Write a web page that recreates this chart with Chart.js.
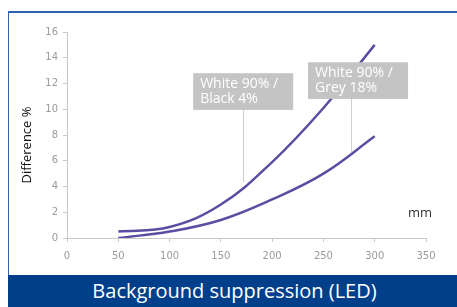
<!DOCTYPE html>
<html>
<head>
<meta charset="utf-8">
<script src="https://cdn.jsdelivr.net/npm/chart.js@4.4.1/dist/chart.umd.min.js"></script>
<style>
  html, body { margin: 0; padding: 0; background: #fff; }
  #wrap { position: relative; width: 457px; height: 307px; overflow: hidden; }
  #frame { position: absolute; left: 8px; top: 11px; right: 0; bottom: 0;
           border-left: 1px solid #2d62ad; border-top: 2px solid #2d62ad; }
  #band { position: absolute; left: 8px; right: 0; top: 275px; bottom: 0;
          background: #023f8b; color: #fff; font-family: "Open Sans", sans-serif;
          font-size: 20px; text-align: center; line-height: 32px; padding-left: 4px; }
  #chart { position: absolute; left: 0; top: 0; }
</style>
</head>
<body>
<div id="wrap">
  <div id="frame"></div>
  <canvas id="chart" width="457" height="307"></canvas>
  <div id="band">Background suppression (LED)</div>
</div>
<script>
const distances = [50, 100, 150, 200, 250, 300];
const blackValues = [0.5, 0.85, 2.6, 5.9, 10.1, 15.0];
const greyValues = [0.0, 0.5, 1.4, 3.0, 5.0, 7.9];
const xTicks = [0, 50, 100, 150, 200, 250, 300, 350];
const yTicks = [0, 2, 4, 6, 8, 10, 12, 14, 16];

const notes = [
  { text: ["White 90% /", "Black 4%"], x: 171.5, left: 123, right: 220.5, top: 12.8, bottom: 9.95, tip: 4.3 },
  { text: ["White 90% /", "Grey 18%"], x: 277, left: 235, right: 332.5, top: 13.65, bottom: 10.8, tip: 6.7 }
];

const notePlugin = {
  id: "notes",
  afterDatasetsDraw(chart) {
    const { ctx, scales: { x, y } } = chart;
    ctx.save();
    notes.forEach(n => {
      const lx = Math.round(x.getPixelForValue(n.x)) + 0.5;
      ctx.strokeStyle = "#cfcfcf";
      ctx.lineWidth = 1;
      ctx.beginPath();
      ctx.moveTo(lx, y.getPixelForValue(n.bottom));
      ctx.lineTo(lx, y.getPixelForValue(n.tip));
      ctx.stroke();
      const bx = x.getPixelForValue(n.left), by = y.getPixelForValue(n.top);
      const bw = x.getPixelForValue(n.right) - bx, bh = y.getPixelForValue(n.bottom) - by;
      ctx.fillStyle = "#c4c4c4";
      ctx.fillRect(bx, by, bw, bh);
      ctx.fillStyle = "#fff";
      ctx.font = "14px 'Open Sans', sans-serif";
      ctx.textBaseline = "middle";
      ctx.fillText(n.text[0], bx + 7, by + 11);
      ctx.fillText(n.text[1], bx + 7, by + 26);
    });
    ctx.fillStyle = "#333";
    ctx.font = "13px 'Open Sans', sans-serif";
    ctx.textBaseline = "middle";
    ctx.fillText("mm", 408, 213);
    ctx.translate(27, 145);
    ctx.rotate(-Math.PI / 2);
    ctx.textAlign = "center";
    ctx.fillStyle = "#111";
    ctx.fillText("Difference %", 0, 0);
    ctx.restore();
  }
};

const lineStyle = {
  borderColor: "#5a4ea2",
  borderWidth: 2.5,
  pointRadius: 0,
  tension: 0.4,
  fill: false
};

new Chart(document.getElementById("chart"), {
  type: "line",
  data: {
    datasets: [
      { label: "White 90% / Black 4%", data: distances.map((d, i) => ({ x: d, y: blackValues[i] })), ...lineStyle },
      { label: "White 90% / Grey 18%", data: distances.map((d, i) => ({ x: d, y: greyValues[i] })), ...lineStyle }
    ]
  },
  options: {
    responsive: false,
    animation: false,
    layout: { padding: { top: 32, right: 31, left: 0, bottom: 0 } },
    plugins: { legend: { display: false }, tooltip: { enabled: false } },
    scales: {
      x: {
        type: "linear", min: 0, max: 350,
        afterBuildTicks: s => { s.ticks = xTicks.map(v => ({ value: v })); },
        afterFit: s => { s.height = 69; },
        grid: { drawOnChartArea: false, drawTicks: true, tickLength: 4, color: "#c8c8c8" },
        border: { display: true, color: "#c8c8c8", width: 1 },
        ticks: { color: "#9a9a9a", font: { family: "DejaVu Sans", size: 10 }, padding: 8, maxRotation: 0 }
      },
      y: {
        min: 0, max: 16,
        afterBuildTicks: s => { s.ticks = yTicks.map(v => ({ value: v })); },
        afterFit: s => { s.width = 67; },
        grid: { drawOnChartArea: false, drawTicks: true, tickLength: 4, color: "#c8c8c8" },
        border: { display: true, color: "#c8c8c8", width: 1 },
        ticks: { color: "#9a9a9a", font: { family: "DejaVu Sans", size: 10 }, padding: 5 }
      }
    }
  },
  plugins: [notePlugin]
});
</script>
</body>
</html>
